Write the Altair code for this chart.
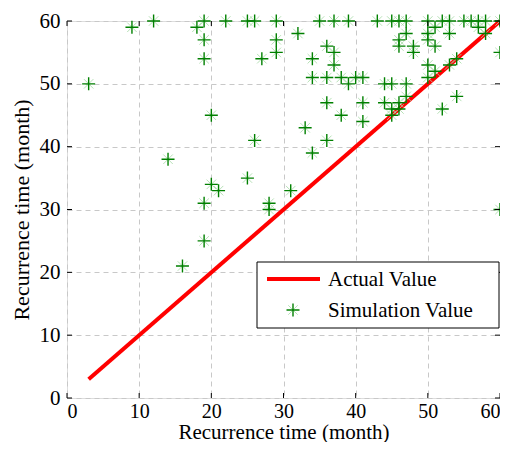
import altair as alt
import pandas as pd

# ---- data ----
sim_x = [3, 9, 12, 18, 19, 19, 19, 20, 14, 20, 21, 19, 19, 16, 22, 25, 26, 29, 32, 29, 29, 27,
         26, 25, 28, 28, 31, 33, 34, 36, 35, 37, 39, 36, 37, 37, 34, 34, 36, 38, 39, 40, 41,
         36, 38, 41, 41, 43, 45, 46, 47, 50, 52, 53, 55, 56, 57, 58, 60, 46, 46, 47, 48, 48,
         50, 50, 51, 51, 53, 57, 58, 60, 50, 50, 51, 53, 54, 54, 52, 44, 45, 47, 44, 45, 46,
         47, 45, 46, 60]
sim_y = [50, 59, 60, 59, 60, 57, 54, 45, 38, 34, 33, 31, 25, 21, 60, 60, 60, 60, 58, 57, 55, 54,
         41, 35, 31, 30, 33, 43, 39, 41, 60, 60, 60, 56, 55, 53, 54, 51, 51, 51, 50, 51, 51,
         47, 45, 47, 44, 60, 60, 60, 60, 60, 60, 60, 60, 60, 60, 60, 60, 57, 56, 58, 55, 56,
         57, 58, 59, 56, 58, 59, 58, 55, 53, 51, 52, 53, 54, 48, 46, 50, 50, 50, 47, 46, 47,
         48, 45, 46, 30]
actual_x = [3, 60]
actual_y = [3, 60]
tick_values = [0, 10, 20, 30, 40, 50, 60]
legend_labels = ["Actual Value", "Simulation Value"]
axis_title = "Recurrence time (month)"

W, H = 433, 377
FONT = "Liberation Serif"
GREEN = "#008000"
PLUS = "M-1,0H1M0,-1V1"
STAR = "M-1,-1L1,1M-1,1L1,-1"

df_sim = pd.DataFrame({"x": sim_x, "y": sim_y})
df_act = pd.DataFrame({"x": actual_x, "y": actual_y})
df_ticks = pd.DataFrame({"x": tick_values, "y": tick_values})
df_one = pd.DataFrame({"k": [0]})

sc = alt.Scale(domain=[0, 60], nice=False)

def mk_axis(lfs, lp, tfs, tp):
    return alt.Axis(values=tick_values, grid=True, gridDash=[5, 4], gridColor="#c8c8c8",
                    gridWidth=1, ticks=False, domain=False, labelFont=FONT, labelFontSize=lfs,
                    labelColor="black", labelPadding=lp, title=axis_title, titleFont=FONT,
                    titleFontSize=tfs, titleFontWeight="normal", titleColor="black",
                    titlePadding=tp, format="d")

XA = mk_axis(20, 3, 21, 0)
YA = mk_axis(21, 7, 22, 6)
X = alt.X("x:Q", scale=sc, axis=XA)
Y = alt.Y("y:Q", scale=sc, axis=YA)

line = alt.Chart(df_act).mark_line(color="#ff0000", strokeWidth=4).encode(x=X, y=Y)

stars = alt.Chart(df_sim).mark_point(shape=STAR, size=90, filled=False, color="#a6dba6",
                                     strokeWidth=1, opacity=0.8).encode(x=X, y=Y)
pluses = alt.Chart(df_sim).mark_point(shape=PLUS, size=169, filled=False, color=GREEN,
                                      strokeWidth=1.4, opacity=1).encode(x=X, y=Y)

tk = dict(color="black", strokeWidth=1)
t_bottom = alt.Chart(df_ticks).mark_rule(**tk).encode(
    x=X, y=alt.value(H), y2=alt.value(H - 5))
t_top = alt.Chart(df_ticks).mark_rule(**tk).encode(
    x=X, y=alt.value(0), y2=alt.value(5))
t_left = alt.Chart(df_ticks).mark_rule(**tk).encode(
    y=Y, x=alt.value(0), x2=alt.value(5))
t_right = alt.Chart(df_ticks).mark_rule(**tk).encode(
    y=Y, x=alt.value(W), x2=alt.value(W - 5))

leg_box = alt.Chart(df_one).mark_rect(fill="white", stroke="black", strokeWidth=1).encode(
    x=alt.value(190), x2=alt.value(432), y=alt.value(241), y2=alt.value(307))
leg_line = alt.Chart(df_one).mark_rule(color="#ff0000", strokeWidth=4).encode(
    x=alt.value(200), x2=alt.value(253), y=alt.value(258))
leg_star = alt.Chart(df_one).mark_point(shape=STAR, size=90, filled=False, color="#a6dba6",
                                        strokeWidth=1, opacity=0.8).encode(
    x=alt.value(226), y=alt.value(289))
leg_plus = alt.Chart(df_one).mark_point(shape=PLUS, size=169, filled=False, color=GREEN,
                                        strokeWidth=1.4, opacity=1).encode(
    x=alt.value(226), y=alt.value(289))
txt = dict(align="left", baseline="middle", font=FONT, fontSize=21, color="black")
leg_t1 = alt.Chart(df_one).mark_text(**txt).encode(
    x=alt.value(261), y=alt.value(259), text=alt.value(legend_labels[0]))
leg_t2 = alt.Chart(df_one).mark_text(**txt).encode(
    x=alt.value(261), y=alt.value(290), text=alt.value(legend_labels[1]))

chart = alt.layer(
    line, stars, pluses, t_bottom, t_top, t_left, t_right,
    leg_box, leg_line, leg_star, leg_plus, leg_t1, leg_t2,
).properties(
    width=W, height=H,
    autosize=alt.AutoSizeParams(type="none"),
    padding={"left": 59, "top": 13, "right": 0, "bottom": 44},
).configure_view(stroke="black", strokeWidth=1).configure(background="white")

chart.save("out.html", embed_options={"renderer": "svg", "actions": False})
